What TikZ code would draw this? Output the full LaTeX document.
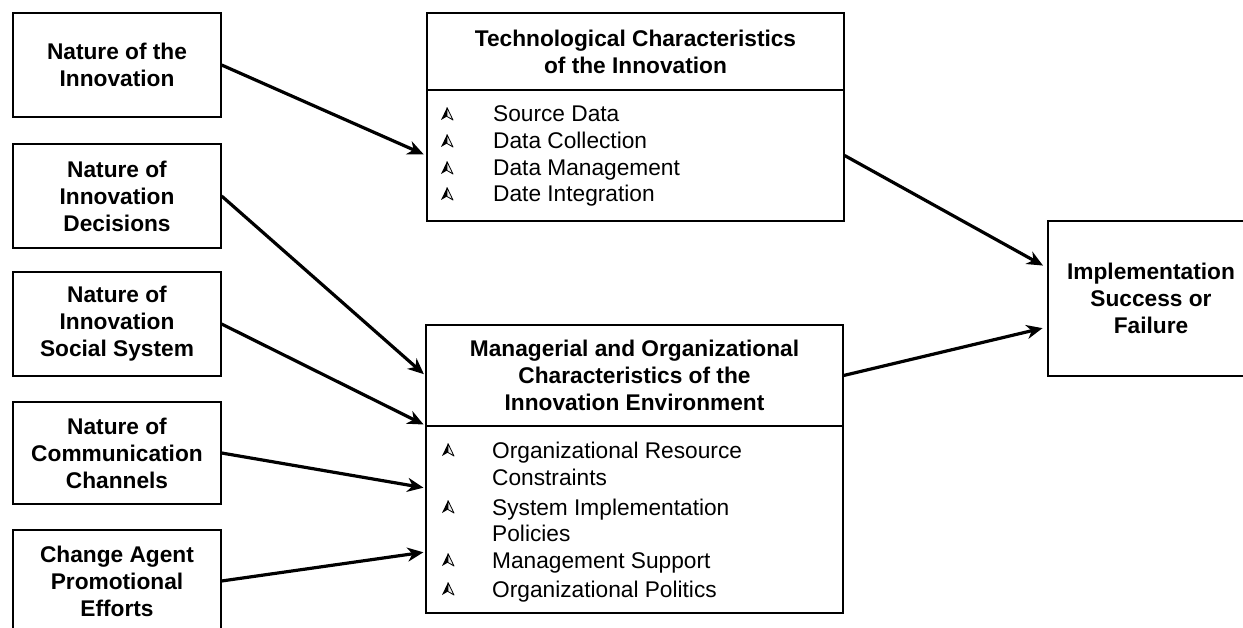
\documentclass[tikz,border=0pt]{standalone}
\usepackage{fontspec}
\setmainfont{Liberation Sans}
\usetikzlibrary{arrows.meta,calc}
\begin{document}
\begin{tikzpicture}[x=1pt,y=-1pt,
  box/.style={draw=black, line width=1.2pt, inner sep=0pt, align=center,
    font=\fontsize{22.7}{27}\selectfont\bfseries},
  item/.style={anchor=base west, inner sep=0pt, font=\fontsize{22.7}{27}\selectfont},
  conn/.style={line width=3.2pt, -{Stealth[length=16pt,width=14pt,inset=5pt]}, shorten >=2pt},
  arrbul/.pic={
    \fill[black] (0,-12.5) -- (-6,0) -- (0,-3.5) -- cycle;
    \draw[line width=0.8pt, fill=gray!15, line join=round] (0,-12.5) -- (0,-3.5) -- (6,0) -- cycle;
  }]
\useasboundingbox (0,0) rectangle (1243,628);
% left column
\node[box, minimum width=208pt, minimum height=104pt] (n1) at (117,65) {Nature of the\\Innovation};
\node[box, minimum width=208pt, minimum height=104pt] (n2) at (117,196) {Nature of\\Innovation\\Decisions};
\node[box, minimum width=208pt, minimum height=104pt] (n3) at (117,324) {Nature of\\Innovation\\Social System};
\node[box, minimum width=208pt, minimum height=102pt] (n4) at (117,453) {Nature of\\Communication\\Channels};
\node[box, minimum width=208pt, minimum height=102pt] (n5) at (117,581) {Change Agent\\Promotional\\Efforts};
% technological box
\node[box, minimum width=417pt, minimum height=77pt] (techT) at (635.5,51.5) {Technological Characteristics\\of the Innovation};
\node[box, minimum width=417pt, minimum height=131pt] (techL) at (635.5,155.5) {};
% managerial box
\node[box, minimum width=417pt, minimum height=101pt] (manT) at (634.5,375.5) {Managerial and Organizational\\Characteristics of the\\Innovation Environment};
\node[box, minimum width=417pt, minimum height=187pt] (manL) at (634.5,519.5) {};
% implementation
\node[box, minimum width=206pt, minimum height=155pt] (impl) at (1151,298.5) {Implementation\\Success or\\Failure};
% tech list
\foreach \yy/\tx/\nm in {122/Source Data/t1, 149/Data Collection/t2, 176/Data Management/t3, 202/Date Integration/t4}{
  \pic at (447,\yy-2) {arrbul};
  \node[item] (\nm) at (493,\yy) {\tx};
}
% managerial list
\foreach \yy in {458,515,568,597}{ \pic at (448,\yy-2) {arrbul}; }
\node[item] (m1) at (492,458) {Organizational Resource};
\node[item] (m2) at (492,485) {Constraints};
\node[item] (m3) at (492,515) {System Implementation};
\node[item] (m4) at (492,541) {Policies};
\node[item] (m5) at (492,568) {Management Support};
\node[item] (m6) at (492,597) {Organizational Politics};
% connectors
\draw[conn, shorten >=3pt] (n1.east) -- (techL.west);
\draw[conn] (n2.east) -- (manT.west);
\draw[conn] (n3.east) -- (manL.north west);
\draw[conn] (n4.east) -- ([yshift=31.5pt]manL.west);
\draw[conn] (n5.east) -- ([yshift=-32.5pt]manL.west);
\draw[conn, shorten >=5pt] (techL.east) -- ([yshift=30.5pt]impl.west);
\draw[conn, shorten >=5pt] (manT.east) -- ([yshift=-28.5pt]impl.west);
\end{tikzpicture}
\end{document}
